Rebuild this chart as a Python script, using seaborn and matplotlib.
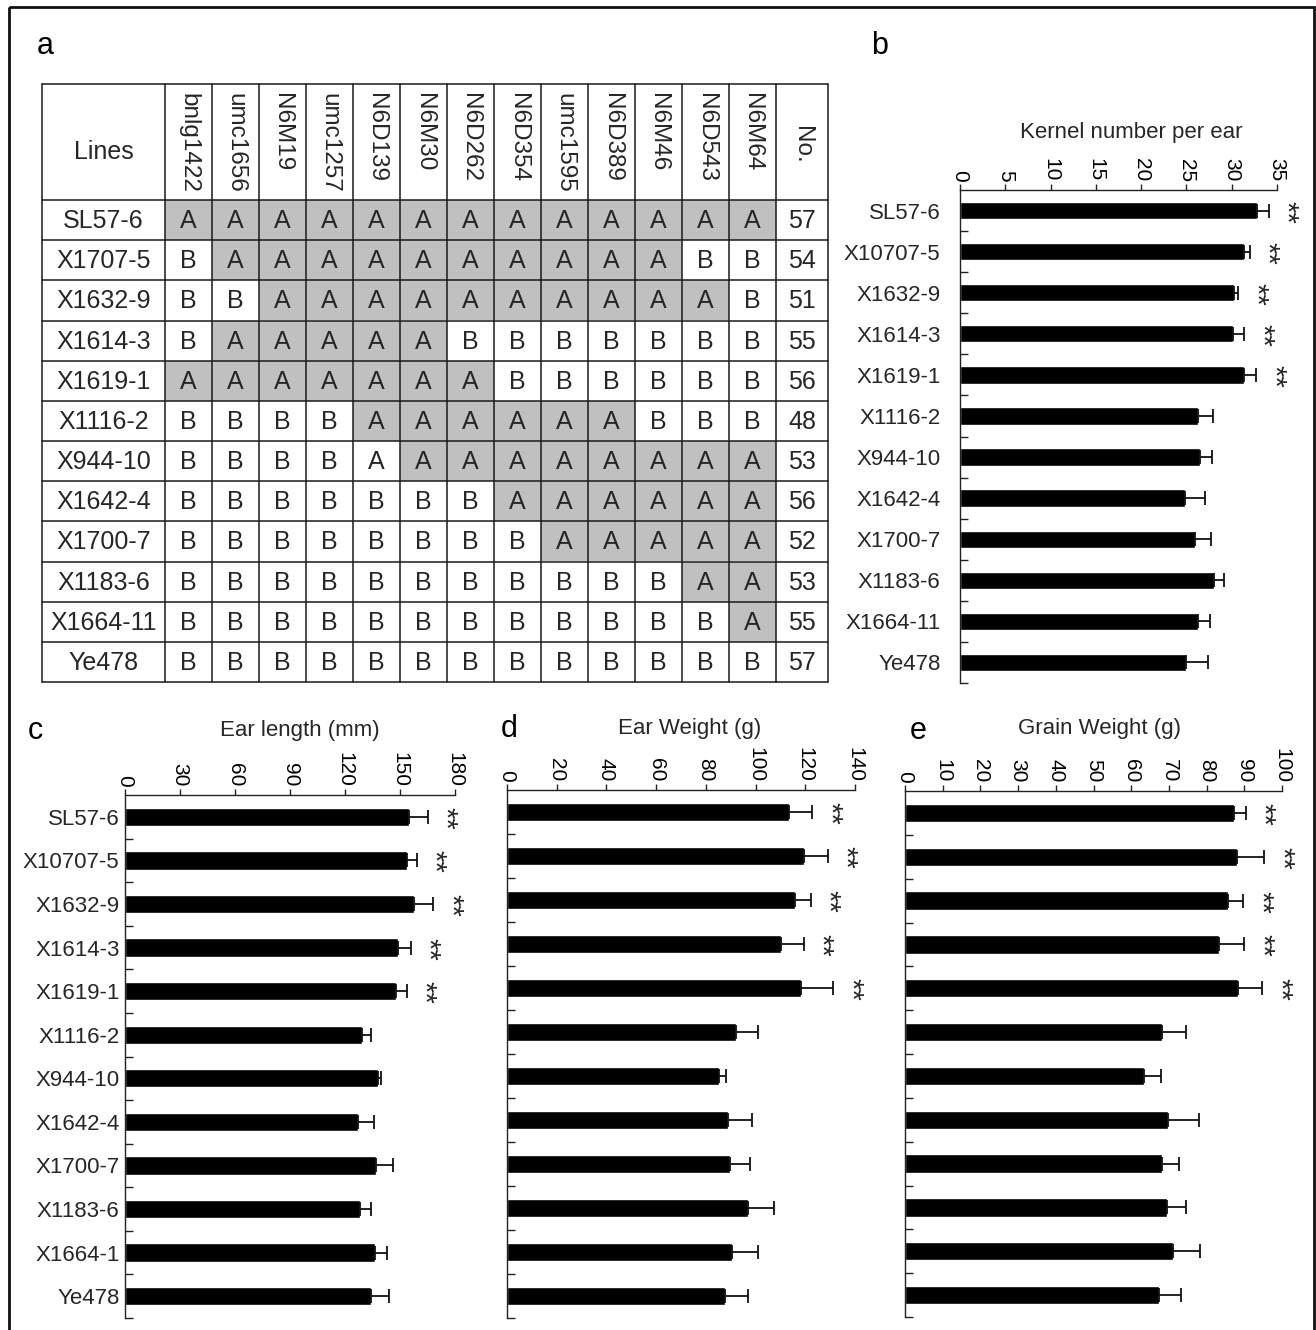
import numpy as np
import pandas as pd
import matplotlib
matplotlib.use("Agg")
import matplotlib.pyplot as plt
import seaborn as sns
from matplotlib.patches import Rectangle
from matplotlib import font_manager

# ---------------- data ----------------
table_lines = ["SL57-6", "X1707-5", "X1632-9", "X1614-3", "X1619-1", "X1116-2",
               "X944-10", "X1642-4", "X1700-7", "X1183-6", "X1664-11", "Ye478"]
markers = ["bnlg1422", "umc1656", "N6M19", "umc1257", "N6D139", "N6M30", "N6D262",
           "N6D354", "umc1595", "N6D389", "N6M46", "N6D543", "N6M64"]
genotypes = ["AAAAAAAAAAAAA",
             "BAAAAAAAAAABB",
             "BBAAAAAAAAAAB",
             "BAAAAABBBBBBB",
             "AAAAAAABBBBBB",
             "BBBBAAAAAABBB",
             "BBBBAAAAAAAAA",
             "BBBBBBBAAAAAA",
             "BBBBBBBBAAAAA",
             "BBBBBBBBBBBAA",
             "BBBBBBBBBBBBA",
             "BBBBBBBBBBBBB"]
plain_a_cells = {("X944-10", "N6D139")}
plant_counts = [57, 54, 51, 55, 56, 48, 53, 56, 52, 53, 55, 57]

lines_b = ["SL57-6", "X10707-5", "X1632-9", "X1614-3", "X1619-1", "X1116-2",
           "X944-10", "X1642-4", "X1700-7", "X1183-6", "X1664-11", "Ye478"]
lines_c = ["SL57-6", "X10707-5", "X1632-9", "X1614-3", "X1619-1", "X1116-2",
           "X944-10", "X1642-4", "X1700-7", "X1183-6", "X1664-1", "Ye478"]
significant = [True, True, True, True, True, False, False, False, False, False, False, False]

kernel_mean = [32.8, 31.4, 30.2, 30.1, 31.4, 26.3, 26.5, 24.8, 26.0, 28.0, 26.3, 25.0]
kernel_se = [1.3, 0.6, 0.5, 1.3, 1.3, 1.65, 1.35, 2.3, 1.7, 1.1, 1.35, 2.4]

earlen_mean = [154.7, 154.0, 157.6, 149.1, 147.6, 129.3, 137.8, 127.1, 136.9, 128.0, 136.4, 134.2]
earlen_se = [10.4, 5.1, 10.6, 6.9, 6.0, 4.9, 1.6, 8.6, 9.5, 6.0, 6.4, 9.8]

earwt_mean = [113.5, 119.6, 115.8, 110.2, 118.2, 92.3, 85.2, 89.0, 89.9, 97.0, 90.5, 87.6]
earwt_se = [9.3, 9.5, 6.3, 9.3, 13.0, 8.7, 3.1, 9.4, 7.8, 10.4, 10.6, 9.2]

grainwt_mean = [87.3, 88.1, 85.7, 83.2, 88.3, 68.1, 63.5, 69.7, 68.1, 69.5, 71.2, 67.3]
grainwt_se = [3.1, 7.2, 4.0, 6.8, 6.5, 6.4, 4.4, 8.2, 4.7, 5.0, 7.1, 5.9]

# ---------------- style ----------------
sns.set_style("white")
SANS = ["Liberation Sans", "DejaVu Sans"]
plt.rcParams["font.family"] = SANS
plt.rcParams["axes.linewidth"] = 1.0


def has_font(name):
    try:
        font_manager.findfont(font_manager.FontProperties(family=name),
                              fallback_to_default=False)
        return True
    except Exception:
        return False


narrow = "Liberation Sans Narrow" if has_font("Liberation Sans Narrow") else "Liberation Sans"

W, H = 1316, 1330
fig = plt.figure(figsize=(W / 100, H / 100), dpi=100)

# full-figure canvas in pixel units for the table, frame and panel letters
canvas = fig.add_axes([0, 0, 1, 1])
canvas.set_xlim(0, W)
canvas.set_ylim(H, 0)
canvas.axis("off")

canvas.add_patch(Rectangle((9, 7), 1305, 1340, fill=False, ec="#111111", lw=2.0,
                           clip_on=False))

for letter, (lx, ly) in zip("abcde", [(45, 46), (880, 46), (35, 731), (509, 729), (918, 731)]):
    canvas.text(lx, ly, letter, fontsize=22, ha="center", va="center", color="black")

# ---------------- panel a: genotype table ----------------
col_edges = [42, 165] + [165 + 47 * (i + 1) for i in range(len(markers))] + [828]
head_top, head_bot, tab_bot = 84, 200, 682
row_h = (tab_bot - head_bot) / len(table_lines)
shade = "#c0c0c0"
grid_kw = dict(color="#1a1a1a", lw=1.1)

for r, (name, geno) in enumerate(zip(table_lines, genotypes)):
    y0 = head_bot + r * row_h
    yc = y0 + row_h / 2
    for c, g in enumerate(geno):
        x0, x1 = col_edges[c + 1], col_edges[c + 2]
        if g == "A" and (name, markers[c]) not in plain_a_cells:
            canvas.add_patch(Rectangle((x0, y0), x1 - x0, row_h, fc=shade, ec="none"))
        canvas.text((x0 + x1) / 2, yc + 1, g, family=narrow, fontsize=18,
                    ha="center", va="center")
    canvas.text((col_edges[0] + col_edges[1]) / 2, yc + 1, name, family=narrow,
                fontsize=18, ha="center", va="center")
    canvas.text((col_edges[-2] + col_edges[-1]) / 2, yc + 1, str(plant_counts[r]),
                family=narrow, fontsize=18, ha="center", va="center")

canvas.text((col_edges[0] + col_edges[1]) / 2, 152, "Lines", family=narrow,
            fontsize=18, ha="center", va="center")
for c, m in enumerate(markers):
    canvas.text((col_edges[c + 1] + col_edges[c + 2]) / 2, 93, m, fontsize=17.5,
                rotation=-90, ha="center", va="top")
canvas.text((col_edges[-2] + col_edges[-1]) / 2, 145, "No.", fontsize=17.5,
            rotation=-90, ha="center", va="center")

# grid lines
for x in col_edges:
    canvas.plot([x, x], [head_top, tab_bot], **grid_kw)
for y in [head_top, head_bot] + [head_bot + (i + 1) * row_h for i in range(len(table_lines))]:
    canvas.plot([col_edges[0], col_edges[-1]], [y, y], **grid_kw)


# ---------------- bar panels ----------------
def px_axes(left, right, top, bottom):
    return fig.add_axes([left / W, 1 - bottom / H, (right - left) / W, (bottom - top) / H])


def bar_panel(ax, names, means, errs, xmax, step, label, label_xy, show_names, name_pad):
    df = pd.DataFrame({"line": names, "value": means})
    sns.barplot(data=df, x="value", y="line", orient="h", color="black",
                saturation=1, width=0.42, errorbar=None, ax=ax, zorder=2)
    pos = np.arange(len(names))
    ax.errorbar(means, pos, xerr=[np.zeros(len(means)), errs], fmt="none",
                ecolor="#111111", elinewidth=1.3, capsize=5, capthick=1.3, zorder=3)
    for m, e, p, s in zip(means, errs, pos, significant):
        if s:
            ax.annotate("**", xy=(m + e, p), xytext=(12.5, -1), textcoords="offset points",
                        rotation=-90, ha="center", va="center", fontsize=21,
                        annotation_clip=False)
    ax.set_xlim(0, xmax)
    ax.set_ylim(len(names) - 0.5, -0.5)
    ax.xaxis.tick_top()
    ticks = np.arange(0, xmax + step / 2, step)
    ax.set_xticks(ticks)
    ax.set_xticklabels([f"{t:g}" for t in ticks], family=SANS)
    ax.tick_params(axis="x", direction="out", length=4, width=1.0, labelsize=15,
                   labelrotation=-90, pad=2, colors="#222222", labelcolor="black")
    ax.set_yticks(pos)
    if show_names:
        ax.set_yticklabels(names, family=SANS)
    else:
        ax.set_yticklabels([])
    ax.tick_params(axis="y", which="major", length=0, labelsize=16, pad=name_pad)
    ax.set_yticks(np.arange(0.5, len(names), 1), minor=True)
    ax.tick_params(axis="y", which="minor", direction="in", length=5.5, width=1.0,
                   colors="#222222", left=True)
    ax.set_xlabel("")
    ax.set_ylabel("")
    for side in ("right", "bottom"):
        ax.spines[side].set_visible(False)
    for side in ("left", "top"):
        ax.spines[side].set_color("#222222")
    ax.text(label_xy[0], label_xy[1], label, transform=ax.transAxes, fontsize=16,
            ha="center", va="center")


ax_b = px_axes(960, 1277, 190, 683)
bar_panel(ax_b, lines_b, kernel_mean, kernel_se, 35, 5, "Kernel number per ear",
          (0.54, 1.116), True, 14)

ax_c = px_axes(125, 455, 795, 1318)
bar_panel(ax_c, lines_c, earlen_mean, earlen_se, 180, 30, "Ear length (mm)",
          (0.53, 1.124), True, 4)

ax_d = px_axes(507, 855, 790, 1318)
bar_panel(ax_d, lines_c, earwt_mean, earwt_se, 140, 20, "Ear Weight (g)",
          (0.525, 1.116), False, 4)

ax_e = px_axes(905, 1282, 791, 1317)
bar_panel(ax_e, lines_c, grainwt_mean, grainwt_se, 100, 10, "Grain Weight (g)",
          (0.515, 1.119), False, 4)

fig.savefig("out.png", dpi=100, facecolor="white")
